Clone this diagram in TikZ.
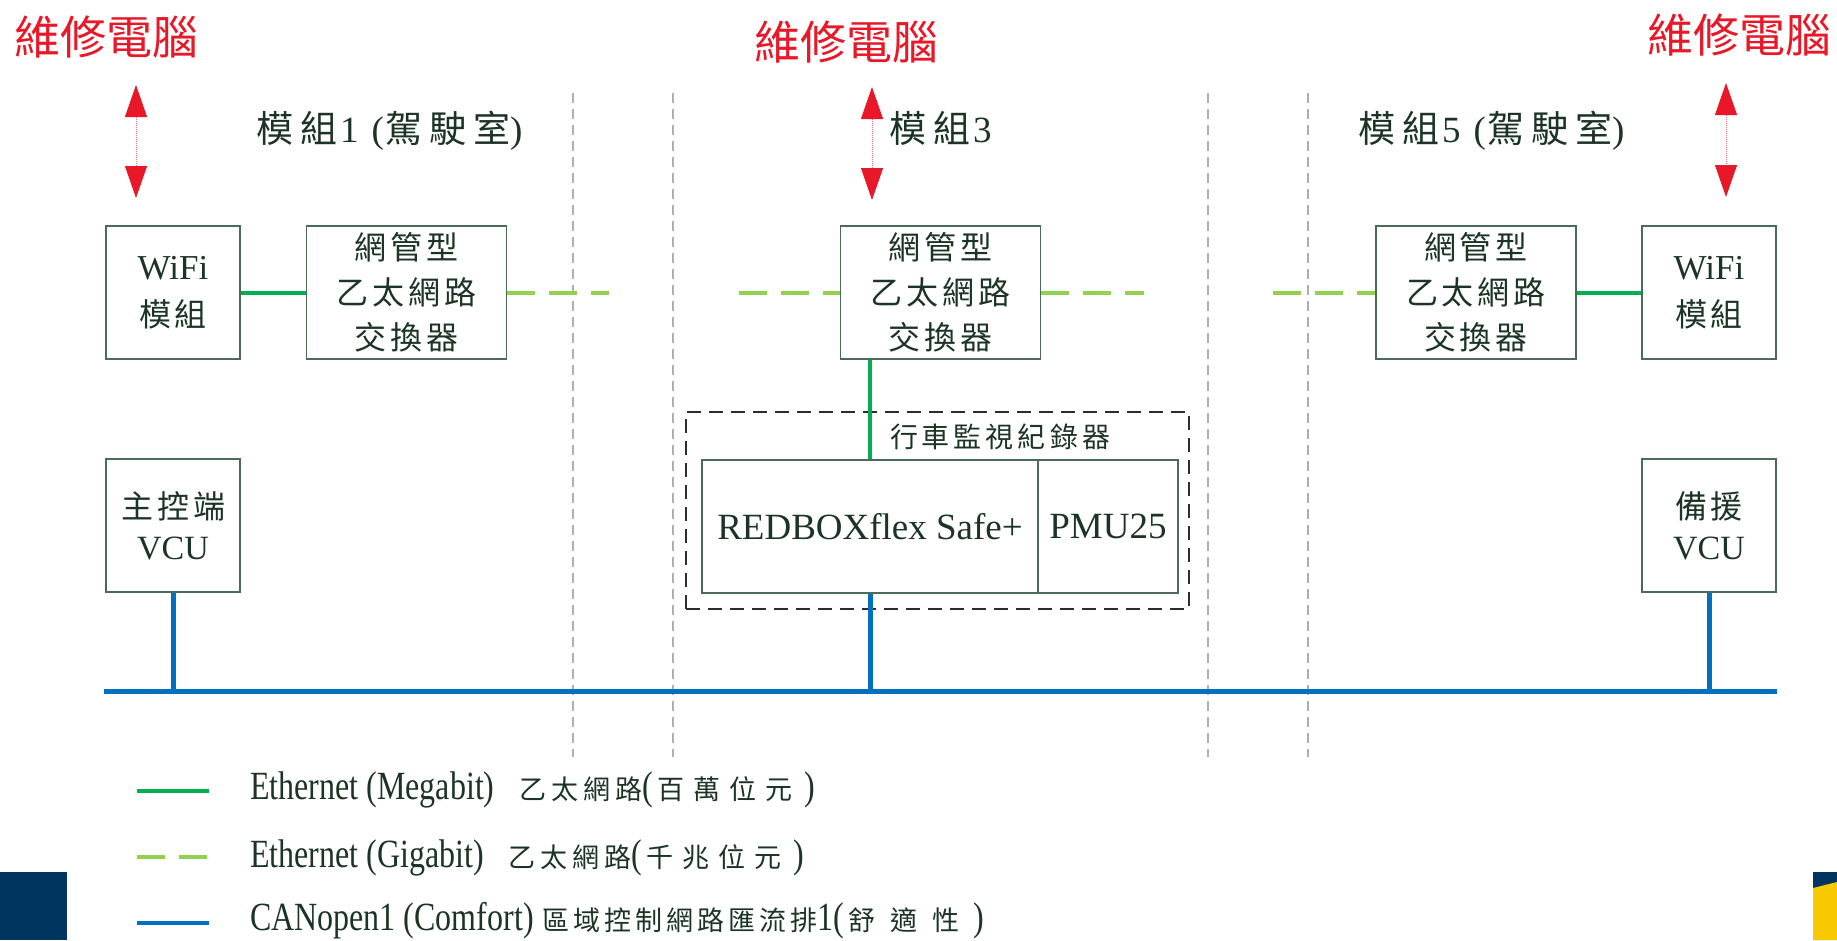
\documentclass[tikz,border=0pt]{standalone}
\usepackage{fontspec}
\setmainfont{Liberation Serif}
\newfontfamily\cjk{Noto Sans CJK TC}
\newfontfamily\condserif[FakeStretch=0.8]{Liberation Serif}
\usetikzlibrary{arrows.meta}
\definecolor{txt}{RGB}{28,52,38}
\definecolor{boxc}{RGB}{74,108,86}
\definecolor{eth}{RGB}{0,176,80}
\definecolor{giga}{RGB}{146,208,80}
\definecolor{can}{RGB}{0,112,192}
\definecolor{redc}{RGB}{232,24,40}
\definecolor{grayd}{RGB}{175,175,175}
\definecolor{navy}{RGB}{0,53,96}
\definecolor{gold}{RGB}{248,200,0}
\newcommand\kk{\kern4pt}
\newcommand\kt{\kern7pt}
\newcommand\zh[1]{{\cjk #1}}
\newcommand\lz[1]{{\cjk\fontsize{27}{30}\selectfont #1}}
\tikzset{
  box/.style={draw=boxc, line width=1.5pt, inner sep=0pt, align=center, text=txt,
    minimum height=133pt},
  narrowbox/.style={box, minimum width=134pt},
  widebox/.style={box, minimum width=200pt, font=\cjk\fontsize{32}{45}\selectfont},
  megabit/.style={draw=eth, line width=4pt},
  gigabit/.style={draw=giga, line width=4pt, dash pattern=on 28pt off 14pt},
  canbus/.style={draw=can, line width=5pt},
  divider/.style={draw=grayd, line width=1.2pt, dash pattern=on 10pt off 6pt},
  recbox/.style={draw={rgb,255:red,45;green,45;blue,45}, line width=1.5pt,
    dash pattern=on 14pt off 8pt, inner sep=0pt, minimum width=503pt, minimum height=197pt},
  pcarrow/.style={draw=redc!60, line width=1pt, densely dotted,
    {Triangle[width=22pt,length=32pt,color=redc]}-{Triangle[width=22pt,length=32pt,color=redc]}},
  pclabel/.style={text=redc, font=\cjk\fontsize{46}{50}\selectfont, inner sep=0pt, anchor=base west},
  title/.style={text=txt, font=\fontsize{37}{40}\selectfont, inner sep=0pt, anchor=base west},
  legtext/.style={text=txt, font=\condserif\fontsize{40}{44}\selectfont, inner sep=0pt, anchor=base west},
}
\begin{document}
\begin{tikzpicture}[x=1pt,y=-1pt]
\useasboundingbox (0,0) rectangle (1837,940);
% corner decorations
\fill[navy] (0,872) rectangle (67,940);
\fill[navy] (1813,872) rectangle (1837,940);
\fill[gold] (1813,888) -- (1837,882) -- (1837,940) -- (1813,940) -- cycle;
% zone dividers
\foreach \xx/\nm in {573/d1,673/d2,1208/d3,1308/d4}{
  \coordinate (\nm t) at (\xx,93);
  \coordinate (\nm b) at (\xx,757);
  \draw[divider] (\nm t) -- (\nm b);
}
% labels
\node[pclabel] (pcL) at (14,54) {維修電腦};
\node[pclabel] (pcC) at (754,59) {維修電腦};
\node[pclabel] (pcR) at (1647,52) {維修電腦};
\node[title] (t1) at (256,142) {\zh{模\kt 組}\kern3pt1\kern13pt(\kern1pt\zh{駕\kt 駛\kt 室})};
\node[title] (t3) at (889,142) {\zh{模\kt 組}\kern3pt3};
\node[title] (t5) at (1358,142) {\zh{模\kt 組}\kern3pt5\kern13pt(\kern1pt\zh{駕\kt 駛\kt 室})};
% arrows to repair PC
\coordinate (aLt) at (136,85);  \coordinate (aLb) at (136,198);
\coordinate (aCt) at (872,87);  \coordinate (aCb) at (872,200);
\coordinate (aRt) at (1726,83); \coordinate (aRb) at (1726,197);
\draw[pcarrow] (aLt) -- (aLb);
\draw[pcarrow] (aCt) -- (aCb);
\draw[pcarrow] (aRt) -- (aRb);
% boxes
\node[narrowbox, font=\fontsize{35}{47}\selectfont] (wifiL) at (173,292.5)
  {WiFi\\\zh{\fontsize{32}{47}\selectfont 模\kk 組}};
\node[narrowbox, font=\fontsize{35}{47}\selectfont] (wifiR) at (1709,292.5)
  {WiFi\\\zh{\fontsize{32}{47}\selectfont 模\kk 組}};
\node[widebox] (swL) at (406.5,292.5) {網\kk 管\kk 型\\乙\kk 太\kk 網\kk 路\\交\kk 換\kk 器};
\node[widebox] (swC) at (940.5,292.5) {網\kk 管\kk 型\\乙\kk 太\kk 網\kk 路\\交\kk 換\kk 器};
\node[widebox] (swR) at (1476,292.5) {網\kk 管\kk 型\\乙\kk 太\kk 網\kk 路\\交\kk 換\kk 器};
\node[narrowbox, font=\fontsize{34}{41}\selectfont] (vcuL) at (173,525.5)
  {\zh{\fontsize{32}{41}\selectfont 主\kk 控\kk 端}\\VCU};
\node[narrowbox, font=\fontsize{34}{41}\selectfont] (vcuR) at (1709,525.5)
  {\zh{\fontsize{32}{41}\selectfont 備\kk 援}\\VCU};
% recorder
\node[recbox] (rec) at (937.5,510.5) {};
\node[text=txt, font=\cjk\fontsize{28}{32}\selectfont, inner sep=0pt] (reclab) at (1000,437)
  {行\kk 車\kk 監\kk 視\kk 紀\kk 錄\kk 器};
\node[box, minimum width=336pt, font=\fontsize{37}{40}\selectfont] (redbox) at (870,526.5) {REDBOXflex Safe+};
\node[box, minimum width=140pt, font=\fontsize{37}{40}\selectfont] (pmu) at (1108,526.5) {PMU25};
% ethernet links
\draw[megabit] (wifiL.east) -- (swL.west);
\draw[megabit] (swR.east) -- (wifiR.west);
\coordinate (gL) at (609,292.5);
\coordinate (gC1) at (739,292.5);
\coordinate (gC2) at (1144,292.5);
\coordinate (gR) at (1273,292.5);
\draw[gigabit] (swL.east) -- (gL);
\draw[gigabit] (gC1) -- (swC.west);
\draw[gigabit] (swC.east) -- (gC2);
\draw[gigabit] (gR) -- (swR.west);
\draw[megabit, line width=4.5pt] (redbox.north) -- (redbox.north |- swC.south);
% CAN bus
\coordinate (busL) at (104,691);
\coordinate (busR) at (1777,691);
\draw[canbus] (busL) -- (busR);
\draw[canbus] (vcuL.south) -- (vcuL.south |- busL);
\draw[canbus] (redbox.south) -- (redbox.south |- busL);
\draw[canbus] (vcuR.south) -- (vcuR.south |- busL);
% legend
\coordinate (l1a) at (137,791); \coordinate (l1b) at (209,791);
\coordinate (l2a) at (137,857); \coordinate (l2b) at (209,857);
\coordinate (l3a) at (137,923); \coordinate (l3b) at (209,923);
\draw[megabit] (l1a) -- (l1b);
\draw[gigabit] (l2a) -- (l2b);
\draw[canbus, line width=4.5pt] (l3a) -- (l3b);
\node[legtext] (lg1) at (250,799) {Ethernet (Megabit)\kern25pt\lz{乙\kern5pt 太\kern5pt 網\kern5pt 路}(\kern4pt\lz{百\kern9pt 萬\kern9pt 位\kern9pt 元}\kern12pt)};
\node[legtext] (lg2) at (250,867) {Ethernet (Gigabit)\kern25pt\lz{乙\kern5pt 太\kern5pt 網\kern5pt 路}(\kern4pt\lz{千\kern9pt 兆\kern9pt 位\kern9pt 元}\kern12pt)};
\node[legtext] (lg3) at (250,930) {CANopen1 (Comfort)\kern9pt\lz{區\kern4pt 域\kern4pt 控\kern4pt 制\kern4pt 網\kern4pt 路\kern4pt 匯\kern4pt 流\kern4pt 排}1(\kern4pt\lz{舒\kern15pt 適\kern15pt 性}\kern14pt)};
\end{tikzpicture}
\end{document}
